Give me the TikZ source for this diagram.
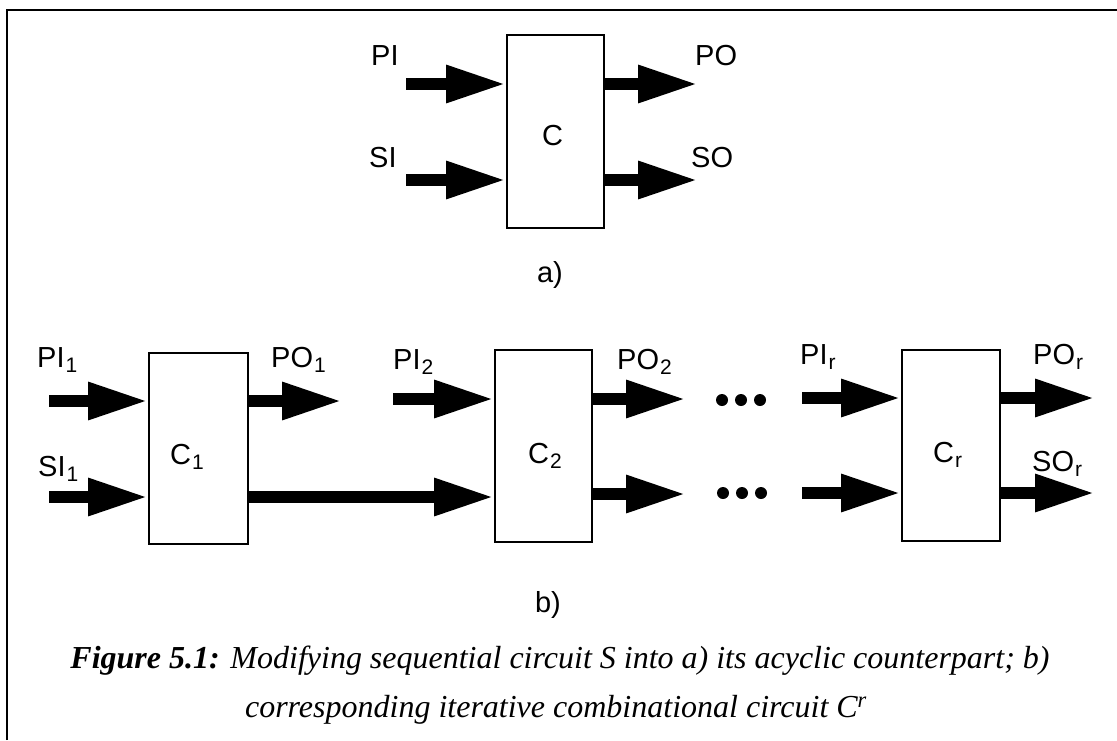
\documentclass[tikz,border=0pt]{standalone}
\usepackage{fontspec}
\setmainfont{Liberation Serif}
\newfontfamily\arialfont{Liberation Sans}
\usetikzlibrary{arrows.meta}
\tikzset{
  box/.style={draw, line width=2pt, inner sep=0pt},
  arr/.style={line width=12pt, -{Triangle[length=60pt,width=35pt]}},
  lbl/.style={font=\arialfont\fontsize{29}{29}\selectfont, inner sep=0pt, anchor=base west},
  sublbl/.style={font=\arialfont\fontsize{29}{29}\selectfont, inner sep=0pt, anchor=base},
  captxt/.style={font=\fontsize{32}{32}\selectfont, inner sep=0pt, anchor=base},
  bigdot/.style={circle, fill, minimum size=12pt, inner sep=0pt},
  frameline/.style={line width=1.5pt}
}
\newcommand\sbs[1]{\kern1pt\raisebox{-5pt}{\fontsize{21}{21}\selectfont #1}}
\begin{document}
\begin{tikzpicture}[x=1pt,y=-1pt]
\useasboundingbox (0,0) rectangle (1117,740);
% frame
\coordinate (fb) at (7,740);
\coordinate (fc) at (7,10);
\coordinate (fr) at (1117,10);
\draw[frameline] (fb) -- (fc) -- (fr);

% ---------- a) ----------
\node[box, minimum width=97pt, minimum height=193pt] (C) at (555.5,131.5) {};
\node[lbl] (lC) at (542,145) {C};
\coordinate (piA) at (406,84);
\coordinate (siA) at (406,180);
\coordinate (poA) at (698,84);
\coordinate (soA) at (698,180);
\draw[arr] (piA) -- (piA -| C.west);
\draw[arr] (siA) -- (siA -| C.west);
\draw[arr] (poA -| C.east) -- (poA);
\draw[arr] (soA -| C.east) -- (soA);
\node[lbl] (lPI) at (371,65) {PI};
\node[lbl] (lSI) at (369,167) {SI};
\node[lbl] (lPO) at (695,65) {PO};
\node[lbl] (lSO) at (691,167) {SO};
\node[sublbl] (la) at (550,282) {a)};

% ---------- b) ----------
\node[box, minimum width=99pt, minimum height=191pt] (C1) at (198.5,448.5) {};
\node[box, minimum width=97pt, minimum height=192pt] (C2) at (543.5,446) {};
\node[box, minimum width=98pt, minimum height=191pt] (Cr) at (951,445.5) {};
\node[lbl] (lC1) at (170,464) {C\sbs{1}};
\node[lbl] (lC2) at (528,463) {C\sbs{2}};
\node[lbl] (lCr) at (933,462) {C\sbs{r}};

\coordinate (pi1) at (49,401);
\coordinate (si1) at (49,497);
\coordinate (po1) at (342,401);
\coordinate (s12) at (0,497);
\coordinate (pi2) at (393,399);
\coordinate (po2) at (686,399);
\coordinate (so2) at (686,494);
\coordinate (pir) at (802,398);
\coordinate (sir) at (802,493);
\coordinate (por) at (1095,398);
\coordinate (sor) at (1095,493);

\draw[arr] (pi1) -- (pi1 -| C1.west);
\draw[arr] (si1) -- (si1 -| C1.west);
\draw[arr] (po1 -| C1.east) -- (po1);
\draw[arr] (s12 -| C1.east) -- (s12 -| C2.west);
\draw[arr] (pi2) -- (pi2 -| C2.west);
\draw[arr] (po2 -| C2.east) -- (po2);
\draw[arr] (so2 -| C2.east) -- (so2);
\draw[arr] (pir) -- (pir -| Cr.west);
\draw[arr] (sir) -- (sir -| Cr.west);
\draw[arr] (por -| Cr.east) -- (por);
\draw[arr] (sor -| Cr.east) -- (sor);

\node[bigdot] (d1) at (722,400) {};
\node[bigdot] (d2) at (741,400) {};
\node[bigdot] (d3) at (760,400) {};
\node[bigdot] (d4) at (723,493) {};
\node[bigdot] (d5) at (742,493) {};
\node[bigdot] (d6) at (761,493) {};

\node[lbl] (lPI1) at (37,367) {PI\sbs{1}};
\node[lbl] (lSI1) at (38,476) {SI\sbs{1}};
\node[lbl] (lPO1) at (271,367) {PO\sbs{1}};
\node[lbl] (lPI2) at (393,369) {PI\sbs{2}};
\node[lbl] (lPO2) at (617,369) {PO\sbs{2}};
\node[lbl] (lPIr) at (800,364) {PI\sbs{r}};
\node[lbl] (lPOr) at (1033,364) {PO\sbs{r}};
\node[lbl] (lSOr) at (1032,471) {SO\sbs{r}};
\node[sublbl] (lb) at (548,612) {b)};

% caption
\node[captxt] (cap1) at (560,668) {\textbf{\textit{Figure 5.1:}} \textit{Modifying sequential circuit S into a) its acyclic counterpart; b)}};
\node[captxt] (cap2) at (556,717) {\textit{corresponding iterative combinational circuit C\textsuperscript{r}}};
\end{tikzpicture}
\end{document}
